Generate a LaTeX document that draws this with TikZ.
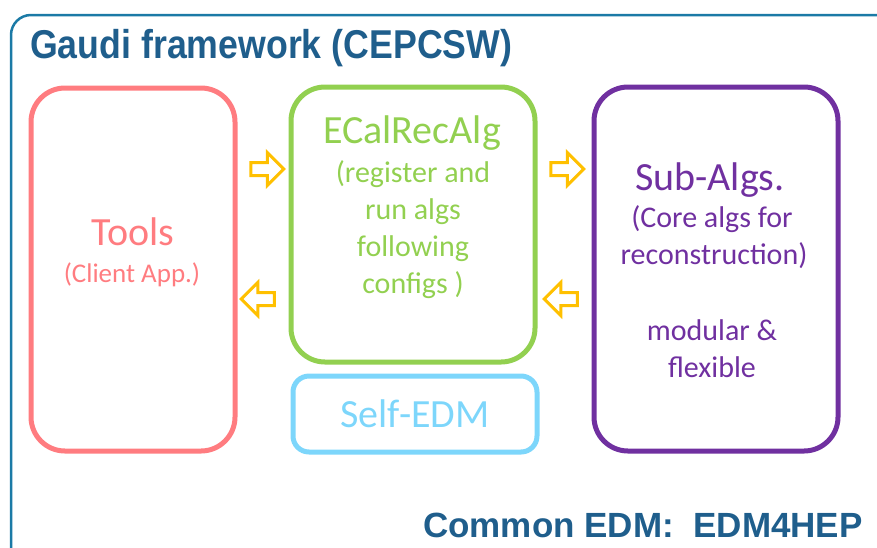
\documentclass[tikz,border=0pt]{standalone}
\usepackage{fontspec}
\setmainfont{Carlito}
\newfontfamily\headfont{Liberation Sans}
\usetikzlibrary{shapes.arrows}
\definecolor{frameblue}{HTML}{1B7AA6}
\definecolor{titleblue}{HTML}{1F5E8C}
\definecolor{cpink}{HTML}{FF7C80}
\definecolor{cgreen}{HTML}{92D050}
\definecolor{cpurple}{HTML}{7030A0}
\definecolor{clight}{HTML}{7DD6FB}
\definecolor{corange}{HTML}{FFC000}
\tikzset{
  boxstyle/.style={draw, line width=5pt, rounded corners=34pt, inner sep=0pt},
  bigtxt/.style={font=\fontsize{40}{48}\selectfont, anchor=base, inner sep=0pt},
  smalltxt/.style={font=\fontsize{30}{36}\selectfont, anchor=base, inner sep=0pt},
  headtxt/.style={font=\headfont\bfseries\fontsize{35}{42}\selectfont, text=titleblue, inner sep=0pt},
  blockarrow/.style={single arrow, draw=corange, fill=white, line width=3pt,
    minimum height=33pt, minimum width=30pt, inner xsep=0pt, inner ysep=5pt,
    single arrow head extend=10pt, single arrow tip angle=90},
}
\begin{document}
\begin{tikzpicture}[x=1pt,y=-1pt]
\useasboundingbox (0,0) rectangle (877,547);
\clip (0,0) rectangle (877,547);
\draw[frameblue, line width=2.5pt, rounded corners=20pt] (11,15) rectangle (895,570);
\node[headtxt, anchor=base west] (title) at (30,58) {\scalebox{1.02}[1.15]{Gaudi framework (CEPCSW)}};
\node[headtxt, anchor=base west] (common) at (423,537) {Common EDM:\ \ EDM4HEP};

\node[boxstyle, draw=cpink, minimum width=204pt, minimum height=363pt] (tools) at (133,269.5) {};
\node[boxstyle, draw=cgreen, minimum width=244pt, minimum height=275pt] (ecal) at (413,224.5) {};
\node[boxstyle, draw=cpurple, minimum width=244pt, minimum height=364pt] (sub) at (716,269) {};
\node[boxstyle, draw=clight, rounded corners=16pt, minimum width=244pt, minimum height=76pt] (edm) at (415,414) {};

\node[bigtxt, text=cpink] (t1) at (133,245) {Tools};
\node[smalltxt, text=cpink, font=\fontsize{27}{32}\selectfont] (t2) at (132,282) {(Client App.)};

\node[bigtxt, text=cgreen] (e1) at (412,143) {ECalRecAlg};
\node[smalltxt, text=cgreen] (e2) at (413,182) {(register and};
\node[smalltxt, text=cgreen] (e3) at (413,219) {run algs};
\node[smalltxt, text=cgreen] (e4) at (413,256) {following};
\node[smalltxt, text=cgreen] (e5) at (413,293) {configs )};

\node[bigtxt, text=cpurple] (s1) at (710,190) {Sub-Algs.};
\node[smalltxt, text=cpurple] (s2) at (712,227) {(Core algs for};
\node[smalltxt, text=cpurple] (s3) at (714,264) {reconstruction)};
\node[smalltxt, text=cpurple] (s4) at (712,340) {modular \&};
\node[smalltxt, text=cpurple] (s5) at (712,377) {flexible};

\node[bigtxt, text=clight] (d1) at (415,427) {Self-EDM};

\node[blockarrow] (a1) at (264,169) {};
\node[blockarrow] (a2) at (564,169) {};
\node[blockarrow, shape border rotate=180] (a3) at (261,299) {};
\node[blockarrow, shape border rotate=180] (a4) at (564,299) {};
\end{tikzpicture}
\end{document}
